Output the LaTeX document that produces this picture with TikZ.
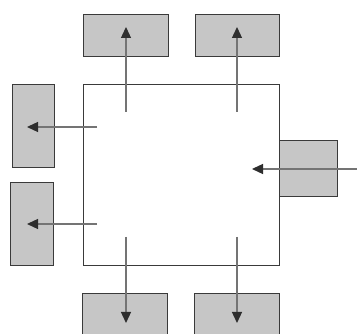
\documentclass[tikz,border=0pt]{standalone}
\usetikzlibrary{arrows.meta}
\definecolor{boxfill}{HTML}{C6C6C6}
\definecolor{boxline}{HTML}{3A3A3A}
\definecolor{arrline}{HTML}{747474}
\definecolor{arrtip}{HTML}{2E2E2E}
\tikzset{
  outbox/.style={draw=boxline, fill=boxfill, line width=1.2pt, inner sep=0pt, anchor=north west},
  mainbox/.style={draw=boxline, line width=1.1pt, inner sep=0pt, anchor=north west},
  flow/.style={draw=arrline, line width=1.3pt, -{Triangle[length=11pt,width=10pt,fill=arrtip,color=arrtip]}}
}
\begin{document}
\begin{tikzpicture}[x=1pt,y=-1pt]
\useasboundingbox (0,0) rectangle (357,334);
\clip (0,0) rectangle (357,334);
\fill[white] (0,0) rectangle (357,334);
% central square
\node[mainbox, minimum width=196pt, minimum height=181pt] (main) at (83,84) {};
% surrounding boxes
\node[outbox, minimum width=85pt, minimum height=42pt] (top1) at (83,14) {};
\node[outbox, minimum width=84pt, minimum height=42pt] (top2) at (195,14) {};
\node[outbox, minimum width=42pt, minimum height=83pt] (left1) at (12,84) {};
\node[outbox, minimum width=43pt, minimum height=83pt] (left2) at (10,182) {};
\node[outbox, minimum width=58pt, minimum height=56pt] (right) at (279,140) {};
\node[outbox, minimum width=85pt, minimum height=55pt] (bot1) at (82,293) {};
\node[outbox, minimum width=85pt, minimum height=55pt] (bot2) at (194,293) {};
% arrow end points
\coordinate (s1) at (126,112); \coordinate (e1) at (126,27);
\coordinate (s2) at (237,112); \coordinate (e2) at (237,27);
\coordinate (s3) at (97,127);  \coordinate (e3) at (27,127);
\coordinate (s4) at (97,224);  \coordinate (e4) at (27,224);
\coordinate (s5) at (362,169); \coordinate (e5) at (252,169);
\coordinate (s6) at (126,237); \coordinate (e6) at (126,323);
\coordinate (s7) at (237,237); \coordinate (e7) at (237,323);
\foreach \i in {1,...,7} { \draw[flow] (s\i) -- (e\i); }
\end{tikzpicture}
\end{document}
